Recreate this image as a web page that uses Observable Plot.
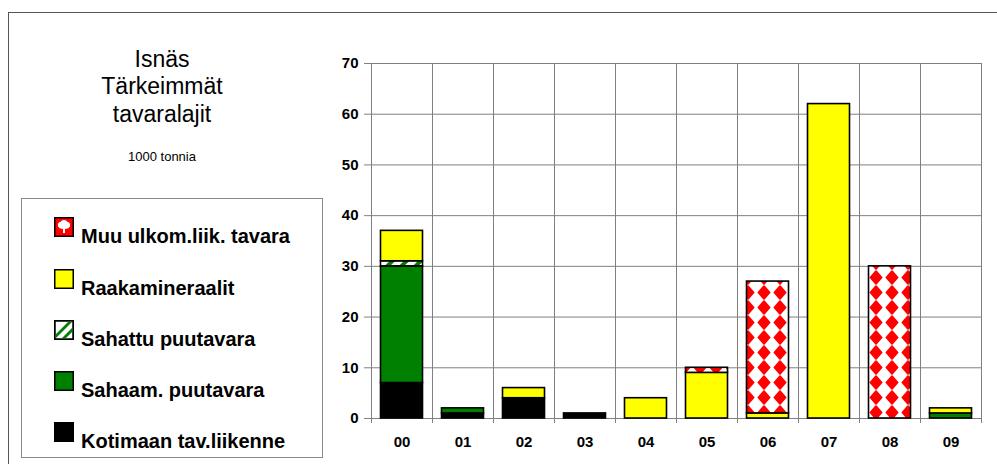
<!DOCTYPE html>
<html>
<head>
<meta charset="utf-8">
<script src="https://cdn.jsdelivr.net/npm/d3@7"></script>
<script src="https://cdn.jsdelivr.net/npm/@observablehq/plot@0.6"></script>
<style>
  body { margin: 0; background: #ffffff; font-family: Arial, "Liberation Sans", sans-serif; }
  #wrap { position: relative; width: 997px; height: 464px; overflow: hidden; background: #ffffff; }
  #frame { position: absolute; left: 8px; top: 12px; width: 1200px; height: 700px; border-top: 1px solid #555; border-left: 1px solid #555; }
  #chart { position: absolute; left: 0; top: 0; }
  .title { position: absolute; left: 62px; width: 200px; text-align: center; font-size: 23px; line-height: 28px; color: #000; white-space: nowrap; }
  .sub { position: absolute; left: 62px; width: 200px; text-align: center; font-size: 13px; color: #000; white-space: nowrap; }
  #legend { position: absolute; left: 21px; top: 198px; width: 300px; height: 258px; border: 1px solid #888; background: #fff; }
  .lsw { position: absolute; left: 32px; width: 20px; height: 20px; }
  .ltx { position: absolute; left: 59px; font-size: 20px; font-weight: bold; line-height: 20px; white-space: nowrap; color: #000; }
</style>
</head>
<body>
<svg width="0" height="0" style="position:absolute">
  <defs>
    <pattern id="muu" patternUnits="userSpaceOnUse" x="4" y="0" width="16" height="15">
      <rect width="16" height="15" fill="#ffffff"/>
      <path d="M8,1.2 L13.6,7.5 L8,13.8 L2.4,7.5Z" fill="#ff0000" stroke="#ff0000" stroke-width="1.8" stroke-linejoin="round"/>
    </pattern>
    <pattern id="sahattu" patternUnits="userSpaceOnUse" width="10" height="10" patternTransform="rotate(45)">
      <rect width="10" height="10" fill="#ffffff"/>
      <rect width="4" height="10" fill="#008000"/>
    </pattern>
  </defs>
</svg>
<div id="wrap">
  <div id="frame"></div>
  <div id="chart"></div>
  <div id="titles"></div>
  <div id="legend"></div>
</div>
<script>
// ---- data ----
const categories = ["00", "01", "02", "03", "04", "05", "06", "07", "08", "09"];
const seriesNames = ["Kotimaan tav.liikenne", "Sahaam. puutavara", "Sahattu puutavara", "Raakamineraalit", "Muu ulkom.liik. tavara"];
const kotimaan = [7, 1, 4, 1, 0, 0, 0, 0, 0, 0];
const sahaam   = [23, 1, 0, 0, 0, 0, 0, 0, 0, 1];
const sahattu  = [1, 0, 0, 0, 0, 0, 0, 0, 0, 0];
const raaka    = [6, 0, 2, 0, 4, 9, 1, 62, 0, 1];
const muu      = [0, 0, 0, 0, 0, 1, 26, 0, 30, 0];
const seriesFills = ["#000000", "#008000", "url(#sahattu)", "#ffff00", "url(#muu)"];
const yTicks = [0, 10, 20, 30, 40, 50, 60, 70];
const titleLines = ["Isnäs", "Tärkeimmät", "tavaralajit"];
const subtitle = "1000 tonnia";

const seriesValues = [kotimaan, sahaam, sahattu, raaka, muu];
const rows = [];
seriesNames.forEach((s, si) => {
  categories.forEach((c, ci) => {
    const v = seriesValues[si][ci];
    if (v > 0) rows.push({cat: c, series: s, value: v});
  });
});

const plot = Plot.plot({
  width: 997,
  height: 464,
  marginLeft: 370,
  marginRight: 16,
  marginTop: 63,
  marginBottom: 46,
  style: {
    fontFamily: "Arial, 'Liberation Sans', sans-serif",
    fontSize: "15px",
    fontWeight: "bold",
    background: "transparent",
    color: "#000"
  },
  x: {type: "band", domain: categories, padding: 0, tickSize: 0, tickPadding: 18, label: null},
  y: {domain: [0, 70], ticks: yTicks, tickSize: 0, tickPadding: 12, label: null},
  color: {domain: seriesNames, range: seriesFills},
  marks: [
    Plot.ruleY(yTicks, {stroke: "#808080", strokeWidth: 1, insetLeft: -6}),
    Plot.barY(rows, {
      x: "cat", y: "value", fill: "series", order: seriesNames,
      stroke: "#000", strokeWidth: 1.6, insetLeft: 9.5, insetRight: 9.5
    })
  ]
});

// vertical category-boundary lines, placed from the plot's own scales
const xs = plot.scale("x"), ys = plot.scale("y");
let bandStart, bw;
if (xs && typeof xs.apply === "function") {
  bandStart = c => xs.apply(c);
  bw = xs.bandwidth;
} else {
  const s = d3.scaleBand(xs.domain, xs.range).paddingInner(0).paddingOuter(0);
  bandStart = c => s(c);
  bw = s.bandwidth();
}
const yTop = (ys && ys.apply) ? ys.apply(70) : 63;
const yBot = (ys && ys.apply) ? ys.apply(0) : 418;
const bounds = categories.map(bandStart).concat([bandStart(categories[categories.length - 1]) + bw]);
const g = d3.create("svg:g").attr("stroke", "#808080").attr("stroke-width", 1);
g.selectAll("line").data(bounds).join("line")
  .attr("x1", d => Math.round(d) + 0.5).attr("x2", d => Math.round(d) + 0.5)
  .attr("y1", yTop).attr("y2", yBot + 5);
const barG = plot.querySelector('g[aria-label="bar"]');
if (barG) plot.insertBefore(g.node(), barG); else plot.appendChild(g.node());

document.getElementById("chart").appendChild(plot);

// titles
const titles = document.getElementById("titles");
titleLines.forEach((t, i) => {
  const d = document.createElement("div");
  d.className = "title";
  d.style.top = (44.5 + i * 27.8) + "px";
  d.textContent = t;
  titles.appendChild(d);
});
const sd = document.createElement("div");
sd.className = "sub";
sd.style.top = "149px";
sd.textContent = subtitle;
titles.appendChild(sd);

// legend (top-to-bottom is reverse of stacking order)
const legend = document.getElementById("legend");
const legendOrder = seriesNames.slice().reverse();
legendOrder.forEach((name, i) => {
  const base = 243.3 - 198 - 1 + i * 51.25;
  const fill = seriesFills[seriesNames.indexOf(name)];
  const sw = document.createElementNS("http://www.w3.org/2000/svg", "svg");
  sw.setAttribute("class", "lsw");
  sw.setAttribute("width", "20");
  sw.setAttribute("height", "20");
  sw.style.top = (base - 26) + "px";
  if (name === "Muu ulkom.liik. tavara") {
    sw.innerHTML = '<rect x="0.75" y="0.75" width="18.5" height="18.5" fill="#ff0000" stroke="#000" stroke-width="1.5"/>' +
      '<path d="M10,3 C12,3 13,4 13.5,5 C15.5,5 16.5,7 16,9 C15.5,11 13.5,12 11,12 L11,16 L9,16 L9,12 C6.5,12 4.5,11 4,9 C3.5,7 4.5,5 6.5,5 C7,4 8,3 10,3Z" fill="#fff"/>';
  } else if (name === "Sahattu puutavara") {
    sw.innerHTML = '<rect x="0.75" y="0.75" width="18.5" height="18.5" fill="#fff" stroke="#000" stroke-width="1.5"/>' +
      '<path d="M2,14 L14,2 L18,2 L2,18Z M8,18 L18,8 L18,12 L12,18Z" fill="#008000"/>' +
      '<rect x="0.75" y="0.75" width="18.5" height="18.5" fill="none" stroke="#000" stroke-width="1.5"/>';
  } else {
    sw.innerHTML = '<rect x="0.75" y="0.75" width="18.5" height="18.5" fill="' + fill + '" stroke="#000" stroke-width="1.5"/>';
  }
  legend.appendChild(sw);
  const tx = document.createElement("div");
  tx.className = "ltx";
  tx.style.top = (base - 16.9) + "px";
  tx.textContent = name;
  legend.appendChild(tx);
});
</script>
</body>
</html>
